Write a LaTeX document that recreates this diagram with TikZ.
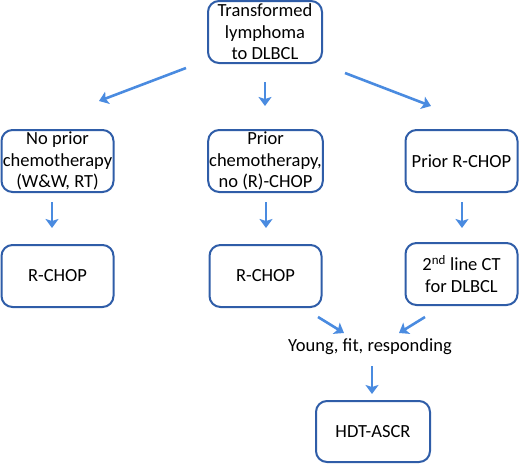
\documentclass[tikz,border=0pt]{standalone}
\usepackage{fontspec}
\setmainfont{Carlito}
\usetikzlibrary{arrows.meta}
\definecolor{boxc}{HTML}{2F5DA8}
\definecolor{arrc}{HTML}{4A8BE0}
\begin{document}
\begin{tikzpicture}[x=1pt,y=-1pt,
  box/.style={draw=boxc,line width=2pt,rounded corners=11pt,fill=white,
    minimum width=112pt,minimum height=62pt,align=center,inner sep=1pt,
    font=\fontsize{18.5}{21.5}\selectfont},
  arr/.style={draw=arrc,line width=2.6pt,-{Stealth[length=9pt,width=13pt,inset=2pt]}},
  lbl/.style={font=\fontsize{18.5}{21.5}\selectfont}]
\useasboundingbox (0,0) rectangle (520,464);
\node[box,minimum width=114pt] (top) at (265,32) {Transformed\\lymphoma\\to DLBCL};
\node[box] (b1) at (57.5,161) {No prior\\chemotherapy\\(W\&W, RT)};
\node[box] (b2) at (265.5,161) {Prior\\chemotherapy,\\no (R)-CHOP};
\node[box] (b3) at (461.5,161) {Prior R-CHOP};
\node[box] (c1) at (57.5,276) {R-CHOP};
\node[box] (c2) at (265.5,276) {R-CHOP};
\node[box] (c3) at (461.5,274) {2\textsuperscript{nd} line CT\\for DLBCL};
\node[lbl] (yf) at (370,347) {Young, fit, responding};
\node[box,minimum width=114pt,minimum height=61pt] (hdt) at (373,431.5) {HDT-ASCR};
% arrow end points
\coordinate (a1s) at (186,68); \coordinate (a1e) at (99,101);
\coordinate (a2s) at (265,82); \coordinate (a2e) at (265,106);
\coordinate (a3s) at (345,73); \coordinate (a3e) at (431,106);
\coordinate (d1s) at (52,202); \coordinate (d1e) at (52,228);
\coordinate (d2s) at (266,202); \coordinate (d2e) at (266,228);
\coordinate (d3s) at (462,202); \coordinate (d3e) at (462,228);
\coordinate (e1s) at (318,317); \coordinate (e1e) at (344,333);
\coordinate (e2s) at (425,317); \coordinate (e2e) at (399,333);
\coordinate (f1s) at (372,366); \coordinate (f1e) at (372,394);
\draw[arr] (a1s) -- (a1e);
\draw[arr] (a2s) -- (a2e);
\draw[arr] (a3s) -- (a3e);
\draw[arr] (d1s) -- (d1e);
\draw[arr] (d2s) -- (d2e);
\draw[arr] (d3s) -- (d3e);
\draw[arr] (e1s) -- (e1e);
\draw[arr] (e2s) -- (e2e);
\draw[arr] (f1s) -- (f1e);
\end{tikzpicture}
\end{document}
